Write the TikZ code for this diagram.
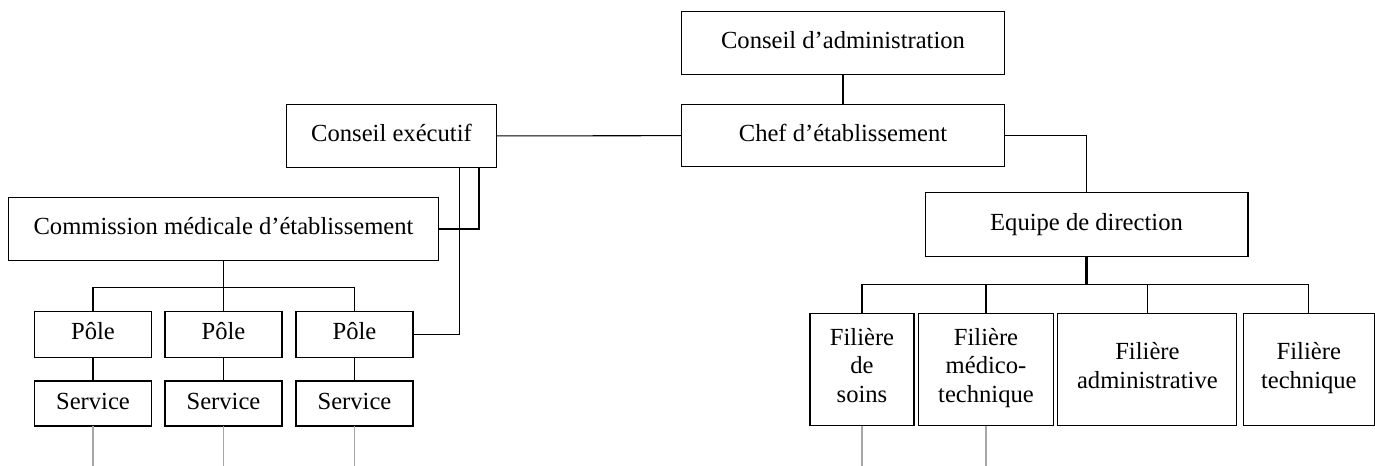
\documentclass[tikz,border=0pt]{standalone}
\usepackage{fontspec}
\setmainfont{Liberation Serif}
\usetikzlibrary{calc}
\tikzset{
box/.style={draw,inner sep=0pt,outer sep=0pt,align=center,minimum height=1.25cm,
  execute at begin node=\strut,execute at end node=\strut},
link/.style={line width=0.6pt},
stub/.style={line width=0.6pt,draw=black!35}
}
\begin{document}
\begin{tikzpicture}[x=0.02cm,y=-0.02cm,font=\fontsize{14}{16.2}\selectfont,line width=0.6pt]
\useasboundingbox (0,0) rectangle (1375,466);
\node[box,minimum width=6.47cm] (admin) at (843,43) {Conseil d'administration};
\node[box,minimum width=6.45cm] (chef) at (843,135.5) {Chef d'établissement};
\node[box,minimum width=4.2cm,minimum height=1.27cm] (execu) at (391.5,136) {Conseil exécutif};
\node[box,minimum width=8.6cm] (cme) at (223.5,229) {Commission médicale d'établissement};
\node[box,minimum width=6.46cm,minimum height=1.27cm] (equipe) at (1086.5,224.5) {Equipe de direction};
\foreach \i/\x in {1/93,2/223.5,3/354.5}{
\node[box,minimum width=2.34cm,minimum height=0.92cm] (pole\i) at (\x,334.3) {Pôle};
\node[box,minimum width=2.34cm,minimum height=0.9cm] (serv\i) at (\x,403.5) {Service};
\draw[link] (pole\i) -- (serv\i);
\draw[stub] (serv\i.south) -- (serv\i.south |- 0,466);
}
\foreach \i/\x/\w/\txt in {1/862/2.08/{Filière\\de\\soins},2/986/2.7/{Filière\\médico-\\technique},3/1147.4/3.58/{Filière\\administrative},4/1308.8/2.63/{Filière\\technique}}{
\node[box,minimum width=\w cm,minimum height=2.25cm] (fil\i) at (\x,369.7) {\txt};
}
\draw[stub] (fil1.south) -- (fil1.south |- 0,466);
\draw[stub] (fil2.south) -- (fil2.south |- 0,466);

% liaisons
\draw[link] (admin) -- (chef);
\draw[link] (execu) -- (chef);
\draw[link] (chef.east) -| (equipe.north);
\coordinate (busR) at (1086.5,284.3);
\draw[line width=1.2pt] (equipe.south) -- (busR);
\foreach \i in {1,...,4}{
\draw[link] (busR) -| (fil\i.north);
}
\coordinate (busL) at (223.5,287.3);
\draw[link] (cme.south) -- (busL);
\foreach \i in {1,2,3}{
\draw[link] (busL) -| (pole\i.north);
}
\draw[link] ($(execu.south)+(87.5,0)$) |- (cme.east);
\draw[link] ($(execu.south)+(68.3,0)$) |- (pole3.east);
\end{tikzpicture}
\end{document}
